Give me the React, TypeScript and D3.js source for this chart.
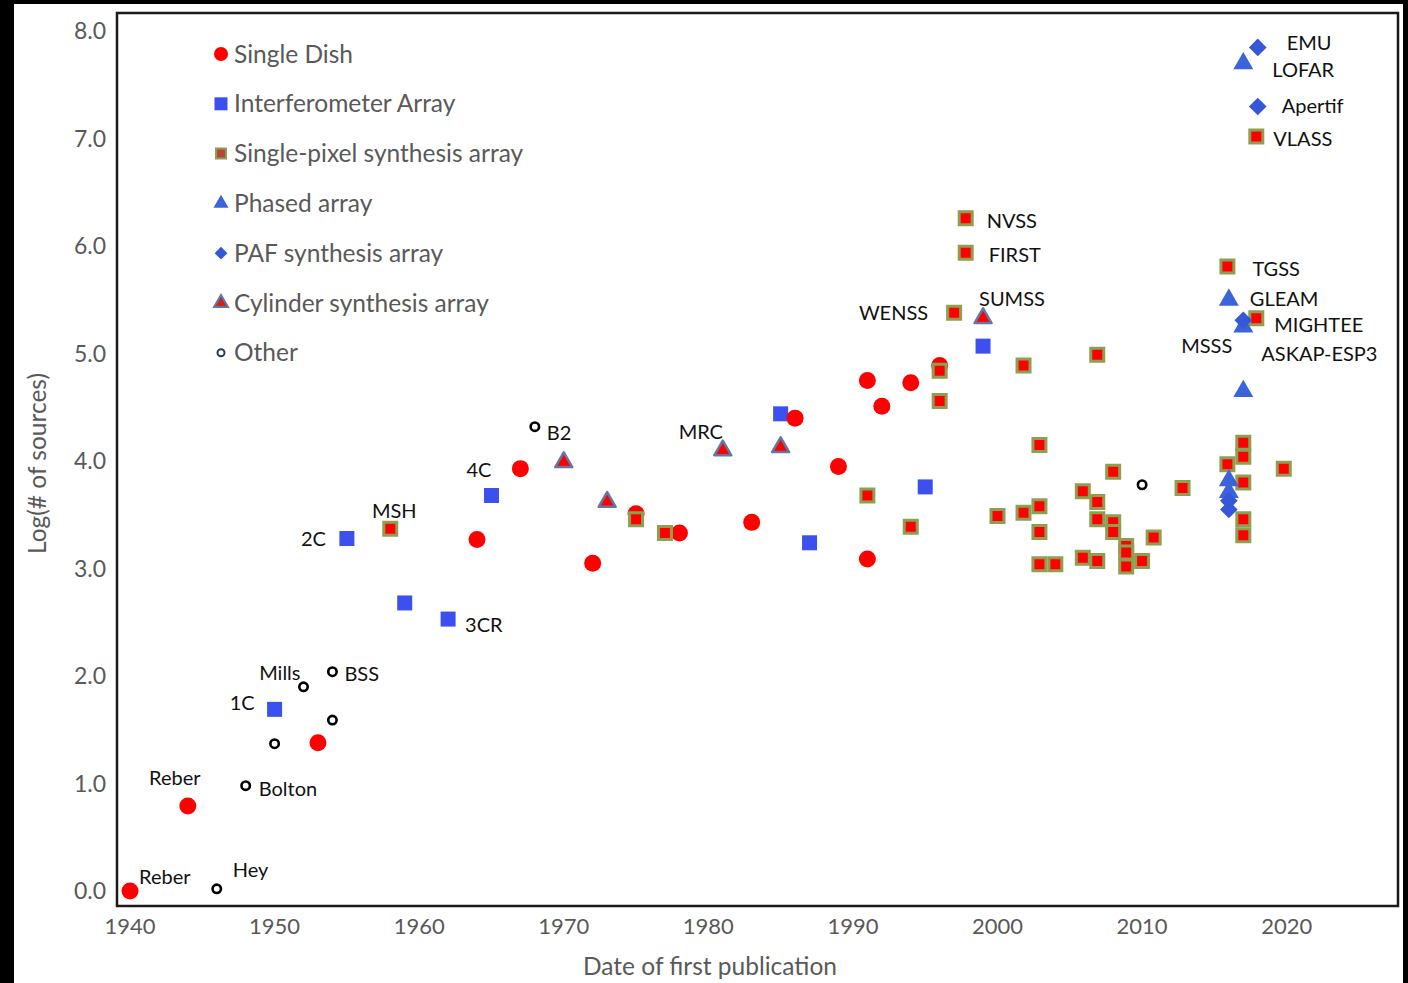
import React from "react";
import * as d3 from "d3";

// ---------- data ----------
type P = [number, number, string?];

const singleDish: P[] = [
  [1940, 0.0, "Reber1"], [1944, 0.79, "Reber2"], [1953, 1.38], [1964, 3.27], [1967, 3.93, "4C"],
  [1972, 3.05], [1975, 3.51], [1978, 3.33], [1983, 3.43], [1986, 4.40], [1989, 3.95],
  [1991, 4.75], [1991, 3.09], [1992, 4.51], [1994, 4.73], [1996, 4.89],
];

const interferometer: P[] = [
  [1950, 1.69, "1C"], [1955, 3.28, "2C"], [1959, 2.68], [1962, 2.53, "3CR"], [1965, 3.68],
  [1985, 4.44], [1987, 3.24], [1995, 3.76], [1999, 5.07],
];

const singlePixel: P[] = [
  [1958, 3.37, "MSH"], [1975, 3.46], [1977, 3.33], [1991, 3.68], [1994, 3.39],
  [1996, 4.84], [1996, 4.56], [1997.8, 6.26, "NVSS"], [1997.8, 5.94, "FIRST"], [1997, 5.38, "WENSS"],
  [2000, 3.49], [2001.8, 4.89], [2001.8, 3.52], [2002.9, 4.15], [2002.9, 3.58], [2002.9, 3.34],
  [2002.9, 3.04], [2004, 3.04], [2005.9, 3.72], [2005.9, 3.10], [2006.9, 4.99], [2006.9, 3.62],
  [2006.9, 3.46], [2006.9, 3.07], [2008, 3.90], [2008, 3.43], [2008, 3.34], [2008.9, 3.21],
  [2008.9, 3.15], [2008.9, 3.02], [2010, 3.07], [2010.8, 3.29], [2012.8, 3.75],
  [2015.9, 5.81, "TGSS"], [2015.9, 3.97], [2017, 4.17], [2017, 4.04], [2017, 3.80], [2017, 3.46],
  [2017, 3.31], [2017.9, 5.33, "MIGHTEE"], [2017.9, 7.02, "VLASS"], [2019.8, 3.93],
];

const phased: P[] = [
  [2016, 5.50, "GLEAM"], [2017, 4.65], [2017, 7.70, "LOFAR"], [2017, 5.25, "MSSS"],
  [2016, 3.82], [2016, 3.71],
];

const paf: P[] = [
  [2018, 7.85, "EMU"], [2018, 7.30, "Apertif"], [2017, 5.31, "ASKAP-ESP3"], [2016, 3.63], [2016, 3.55],
];

const cylinder: P[] = [
  [1970, 3.99], [1973, 3.62], [1981, 4.10, "MRC"], [1985, 4.13], [1999, 5.33, "SUMSS"],
];

const other: P[] = [
  [1946, 0.02, "Hey"], [1948, 0.98, "Bolton"], [1950, 1.37], [1952, 1.90, "Mills"],
  [1954, 2.04, "BSS"], [1954, 1.59], [1968, 4.32, "B2"], [2010, 3.78],
];

const labelText: Record<string, string> = { Reber1: "Reber", Reber2: "Reber" };

const xTicks = [1940, 1950, 1960, 1970, 1980, 1990, 2000, 2010, 2020];
const yTicks = [0, 1, 2, 3, 4, 5, 6, 7, 8];

const legendNames = [
  "Single Dish", "Interferometer Array", "Single-pixel synthesis array", "Phased array",
  "PAF synthesis array", "Cylinder synthesis array", "Other",
];

// ---------- label placement (pixel offsets, anchor) ----------
const labelPos: Record<string, [number, number, string]> = {
  Reber1: [9, -14, "start"], Reber2: [-13, -28, "middle"], Hey: [16, -19, "start"],
  Bolton: [13, 3, "start"], "1C": [-20, -6, "end"], Mills: [-3, -14, "end"], BSS: [12, 2, "start"],
  "2C": [-21, 1, "end"], MSH: [4, -18, "middle"], "3CR": [17, 6, "start"], "4C": [-29, 1, "end"],
  B2: [12, 6, "start"], MRC: [-22, -18, "middle"], WENSS: [-26, 0, "end"], SUMSS: [-4, -19, "start"],
  NVSS: [21, 3, "start"], FIRST: [23, 2, "start"], TGSS: [25, 2, "start"], GLEAM: [21, -1, "start"],
  MIGHTEE: [18, 7, "start"], MSSS: [-11, 19, "end"], "ASKAP-ESP3": [18, 34, "start"],
  EMU: [29, -4, "start"], LOFAR: [29, 6, "start"], Apertif: [24, 0, "start"], VLASS: [17, 2, "start"],
};

const W = 1408, H = 983;
const FL = 117, FT = 13, FR = 1398, FB = 906;
const FONT = "Lato, 'Open Sans', sans-serif";
const GRAY = "#595959";

const RED = "#ff0000";
const BLUE_SQ = "#3b50ef";
const BLUE_TRI = "#3d63da";
const BLUE_DIA = "#3557d8";
const OLIVE = "#8f9f52";
const CYL_EDGE = "#6178a6";

export default function App() {
  const x = d3.scaleLinear().domain([1939.1, 2027.7]).range([FL, FR]);
  const y = d3.scaleLinear().domain([-0.14, 8.17]).range([FB, FT]);

  const circ = d3.symbol().type(d3.symbolCircle).size(Math.PI * 8.5 * 8.5)()!;
  const sq = d3.symbol().type(d3.symbolSquare).size(15 * 15)()!;
  const sqSP = d3.symbol().type(d3.symbolSquare).size(13 * 13)()!;
  const tri = d3.symbol().type(d3.symbolTriangle).size(0.433 * 20 * 20)()!;
  const triCyl = d3.symbol().type(d3.symbolTriangle).size(0.433 * 17 * 17)()!;
  const dia = d3.symbol().type(d3.symbolSquare).size(12.5 * 12.5)()!;

  // legend shapes
  const lCirc = d3.symbol().type(d3.symbolCircle).size(Math.PI * 7 * 7)()!;
  const lSq = d3.symbol().type(d3.symbolSquare).size(13 * 13)()!;
  const lSqSP = d3.symbol().type(d3.symbolSquare).size(10 * 10)()!;
  const lTri = d3.symbol().type(d3.symbolTriangle).size(0.433 * 15 * 15)()!;
  const lDia = d3.symbol().type(d3.symbolSquare).size(9 * 9)()!;
  const lTriCyl = d3.symbol().type(d3.symbolTriangle).size(0.433 * 14 * 14)()!;
  const lOther = d3.symbol().type(d3.symbolCircle).size(Math.PI * 3.5 * 3.5)()!;

  const legendMarks = [
    <path d={lCirc} fill={RED} />,
    <path d={lSq} fill={BLUE_SQ} />,
    <path d={lSqSP} fill="#b3473a" stroke={OLIVE} strokeWidth={2} />,
    <path d={lTri} fill={BLUE_TRI} />,
    <path d={lDia} fill={BLUE_DIA} transform="rotate(45)" />,
    <path d={lTriCyl} fill="#c0282a" stroke={CYL_EDGE} strokeWidth={2} />,
    <path d={lOther} fill="#fff" stroke="#2b3a5c" strokeWidth={2} />,
  ];

  const all: P[] = [...singleDish, ...interferometer, ...singlePixel, ...phased, ...paf, ...cylinder, ...other];
  const labels = all.filter((p) => p[2]);

  const tr = (p: P, extra = "") => `translate(${x(p[0])},${y(p[1])})${extra}`;

  return (
    <svg width={W} height={H} style={{ position: "absolute", left: 0, top: 0 }} fontFamily={FONT}>
      <rect x={0} y={0} width={W} height={H} fill="#000" />
      <rect x={14} y={4} width={1389} height={H - 4} fill="#fff" />

      {/* markers */}
      {interferometer.map((p, i) => (
        <path key={"i" + i} d={sq} transform={tr(p)} fill={BLUE_SQ} />
      ))}
      {singleDish.map((p, i) => (
        <path key={"s" + i} d={circ} transform={tr(p)} fill={RED} />
      ))}
      {singlePixel.map((p, i) => (
        <path key={"p" + i} d={sqSP} transform={tr(p)} fill={RED} stroke={OLIVE} strokeWidth={3} />
      ))}
      {cylinder.map((p, i) => (
        <path key={"c" + i} d={triCyl} transform={tr(p)} fill={RED} stroke={CYL_EDGE} strokeWidth={2.5} strokeLinejoin="round" />
      ))}
      {phased.map((p, i) => (
        <path key={"t" + i} d={tri} transform={tr(p)} fill={BLUE_TRI} />
      ))}
      {paf.map((p, i) => (
        <path key={"d" + i} d={dia} transform={tr(p, " rotate(45)")} fill={BLUE_DIA} />
      ))}
      {other.map((p, i) => (
        <circle key={"o" + i} cx={x(p[0])} cy={y(p[1])} r={4.2} fill="#fff" stroke="#000" strokeWidth={2.6} />
      ))}

      {/* point labels */}
      {labels.map((p, i) => {
        const key = p[2]!;
        const [dx, dy, anchor] = labelPos[key] || [10, 0, "start"];
        return (
          <text key={"l" + i} x={x(p[0]) + dx} y={y(p[1]) + dy} dy="0.35em" textAnchor={anchor}
            fontSize={20} fill="#111">
            {labelText[key] || key}
          </text>
        );
      })}

      {/* legend */}
      {legendNames.map((n, i) => (
        <g key={"lg" + i} transform={`translate(221,${54 + i * 49.8})`}>
          {legendMarks[i]}
          <text x={13} dy="0.35em" fontSize={24.5} fill={GRAY}>{n}</text>
        </g>
      ))}

      {/* frame */}
      <rect x={FL} y={FT} width={FR - FL} height={FB - FT} fill="none" stroke="#1a1a1a" strokeWidth={2.5} />

      {/* ticks */}
      {yTicks.map((t) => (
        <text key={"yt" + t} x={106} y={y(t)} dy="0.35em" textAnchor="end" fontSize={23} fill={GRAY}>
          {d3.format(".1f")(t)}
        </text>
      ))}
      {xTicks.map((t) => (
        <text key={"xt" + t} x={x(t)} y={926} dy="0.35em" textAnchor="middle" fontSize={22} fill={GRAY}>
          {t}
        </text>
      ))}

      <text x={710} y={966} dy="0.35em" textAnchor="middle" fontSize={24.5} fill={GRAY}>
        Date of first publication
      </text>
      <text transform={`translate(37,${(FT + FB) / 2 + 4}) rotate(-90)`} dy="0.35em" textAnchor="middle" fontSize={24.5} fill={GRAY}>
        Log(# of sources)
      </text>
    </svg>
  );
}
